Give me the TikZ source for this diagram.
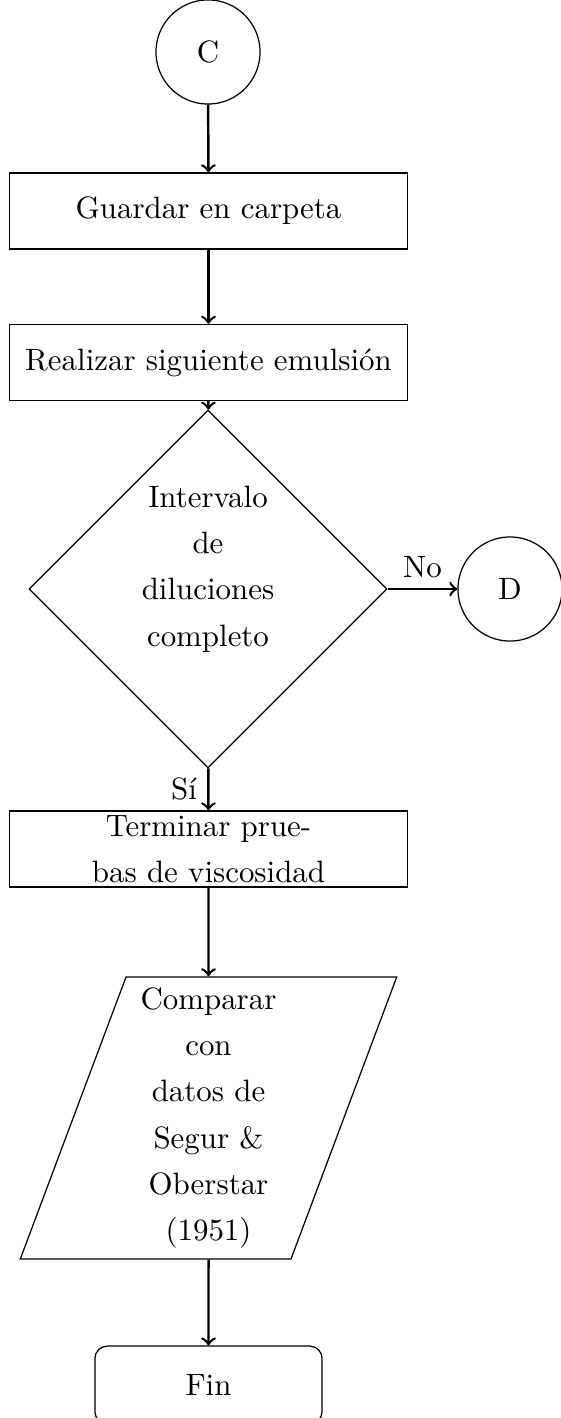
\documentclass[tikz,border=0pt]{standalone}
\usetikzlibrary{shapes.geometric}
\begin{document}
\begin{tikzpicture}[
            x=0.3236pt, y=-0.3236pt,
            font=\linespread{1.25}\selectfont,
            flecha/.style={->, thick},
            proceso/.style={draw, rectangle, minimum width=129pt, minimum height=24.6pt, inner sep=1pt, align=center},
            decision/.style={draw, diamond, minimum width=115.9pt, minimum height=115.9pt, inner sep=1pt, text depth=15pt, align=center},
            conector/.style={draw, circle, minimum size=33.7pt, inner sep=0pt},
            datos/.style={draw, trapezium, trapezium left angle=71.2, trapezium right angle=108.8, trapezium stretches=true, inner sep=1pt, minimum height=91.3pt, minimum width=122pt, align=center},
            final/.style={draw, rectangle, rounded corners, minimum width=73.5pt, minimum height=25.2pt}
        ]
            \useasboundingbox (0,0) rectangle (560,1418);

            % Nodos del diagrama
            \node[conector] (conC) at (208,52) {C};
            \node[proceso] (guardar) at (208.5,211) {Guardar en carpeta};
            \node[proceso] (realizar) at (208.5,362.5) {Realizar siguiente emulsión};
            \node[decision] (intervalo) at (208,589) {Intervalo\\de\\diluciones\\completo};
            \node[conector] (conD) at (510,589) {D};
            \node[proceso] (terminar) at (208.5,849) {Terminar prue-\\bas de viscosidad};
            \node[datos] (comparar) at (208.5,1118) {Comparar\\con\\datos de\\Segur \&\\Oberstar\\(1951)};
            \node[final] (fin) at (208.5,1385) {Fin};

            % Flechas
            \draw[flecha] (conC) -- (guardar);
            \draw[flecha] (guardar) -- (realizar);
            \draw[flecha] (realizar) -- (intervalo);
            \draw[flecha] (intervalo) -- node[above] {No} (conD);
            \draw[flecha] (intervalo) -- node[left] {Sí} (terminar);
            \draw[flecha] (terminar) -- (comparar);
            \draw[flecha] (comparar) -- (fin);

        \end{tikzpicture}
\end{document}
